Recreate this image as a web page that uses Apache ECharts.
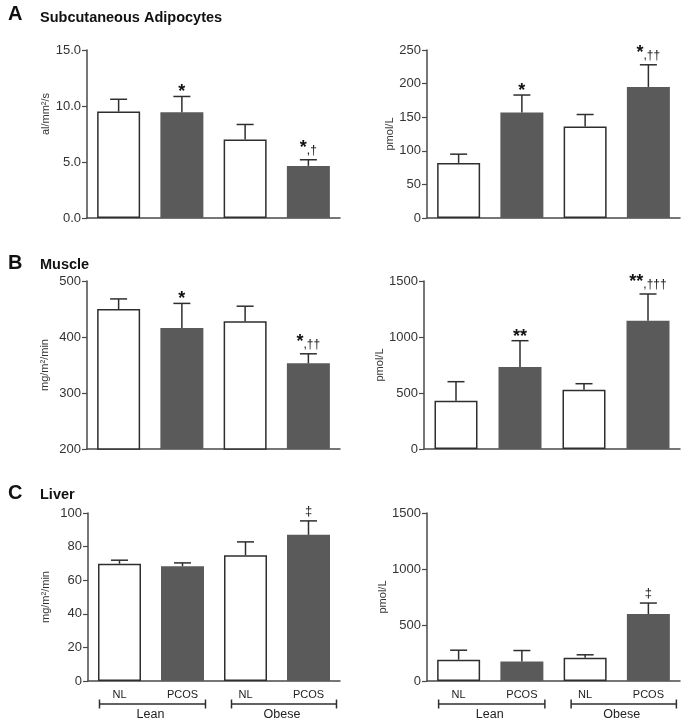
<!DOCTYPE html>
<html>
<head>
<meta charset="utf-8">
<script src="https://cdn.jsdelivr.net/npm/echarts@6/dist/echarts.min.js"></script>
<style>
html,body{margin:0;padding:0;background:#fff;}
#chart{width:683px;height:719px;}
</style>
</head>
<body>
<div id="chart"></div>
<script>
// ---- Data ----
const groups = ['NL', 'PCOS', 'NL', 'PCOS'];
const bodyTypes = ['Lean', 'Obese'];

// A: Subcutaneous adipocytes
const adipoFlow = [9.5, 9.45, 7.0, 4.65];
const adipoFlowErr = [1.1, 1.4, 1.35, 0.55];
const adipoFlowSig = ['', '*', '', '*,†'];
const adipoIns = [82, 157, 136, 195];
const adipoInsErr = [13, 26, 18, 33];
const adipoInsSig = ['', '*', '', '*,††'];

// B: Muscle
const muscleUptake = [450, 416, 428, 353];
const muscleUptakeErr = [18, 44, 27, 17];
const muscleUptakeSig = ['', '*', '', '*,††'];
const muscleIns = [431, 732, 529, 1146];
const muscleInsErr = [170, 235, 54, 238];
const muscleInsSig = ['', '**', '', '**,†††'];

// C: Liver
const liverUptake = [69.8, 68.3, 74.9, 87.0];
const liverUptakeErr = [2.1, 2.0, 7.9, 8.3];
const liverUptakeSig = ['', '', '', '‡'];
const liverIns = [190, 175, 208, 598];
const liverInsErr = [85, 97, 26, 98];
const liverInsSig = ['', '', '', '‡'];

// Axis scales
const yMins = [0, 0, 200, 0, 0, 0];
const yMaxs = [15, 250, 500, 1500, 100, 1500];
const yIntervals = [5, 50, 100, 500, 20, 500];
const yNames = ['al/mm²/s', 'pmol/L', 'mg/m²/min', 'pmol/L', 'mg/m²/min', 'pmol/L'];

const panels = [
  {vals: adipoFlow, err: adipoFlowErr, sig: adipoFlowSig},
  {vals: adipoIns, err: adipoInsErr, sig: adipoInsSig},
  {vals: muscleUptake, err: muscleUptakeErr, sig: muscleUptakeSig},
  {vals: muscleIns, err: muscleInsErr, sig: muscleInsSig},
  {vals: liverUptake, err: liverUptakeErr, sig: liverUptakeSig},
  {vals: liverIns, err: liverInsErr, sig: liverInsSig}
];

// ---- Layout ----
const grids = [
  {left: 87, top: 50, width: 253, height: 168},
  {left: 427, top: 50, width: 253, height: 168},
  {left: 87, top: 281, width: 253, height: 168},
  {left: 424, top: 281, width: 256, height: 168},
  {left: 88, top: 513, width: 252, height: 168},
  {left: 427, top: 513, width: 253, height: 168}
];
const nameGaps = [34, 32, 37, 36, 37, 36];
const namePads = [[0, 0, 0, 40], 0, 0, 0, 0, 0];

const FONT = 'Liberation Sans';
const AXIS_COLOR = '#4a4a4a';
const DARK = '#5a5a5a';
const INK = '#2e2e2e';

const chart = echarts.init(document.getElementById('chart'), null, {renderer: 'canvas'});

const xAxes = grids.map((g, i) => ({
  type: 'category',
  gridIndex: i,
  data: groups,
  boundaryGap: true,
  axisLine: {show: true, lineStyle: {color: AXIS_COLOR, width: 1.5}},
  axisTick: {show: false},
  axisLabel: {show: i >= 4, color: '#222', fontFamily: FONT, fontSize: 11, margin: 8}
}));

const yAxes = grids.map((g, i) => ({
  type: 'value',
  gridIndex: i,
  min: yMins[i],
  max: yMaxs[i],
  interval: yIntervals[i],
  splitLine: {show: false},
  axisLine: {show: true, lineStyle: {color: AXIS_COLOR, width: 1.5}},
  axisTick: {show: true, length: 5, lineStyle: {color: AXIS_COLOR, width: 1.2}},
  axisLabel: {
    color: '#333', fontFamily: FONT, fontSize: 13, margin: 6,
    formatter: i === 0 ? (v) => v.toFixed(1) : (v) => String(v)
  },
  name: yNames[i],
  nameLocation: 'middle',
  nameGap: nameGaps[i],
  nameTextStyle: {color: '#333', fontFamily: FONT, fontSize: 11, padding: namePads[i]}
}));

const series = [];
panels.forEach((p, i) => {
  series.push({
    type: 'bar',
    xAxisIndex: i,
    yAxisIndex: i,
    barWidth: 43,
    clip: true,
    silent: true,
    data: p.vals.map((v, k) => ({
      value: v,
      itemStyle: k % 2 === 0
        ? {color: '#ffffff', borderColor: INK, borderWidth: 1.5}
        : {color: DARK, borderColor: DARK, borderWidth: 0}
    })),
    z: 2
  });
  series.push({
    type: 'custom',
    xAxisIndex: i,
    yAxisIndex: i,
    silent: true,
    z: 3,
    data: p.vals.map((v, k) => [k, v, p.err[k]]),
    renderItem: function (params, api) {
      const k = api.value(0);
      const base = api.coord([k, api.value(1)]);
      const top = api.coord([k, api.value(1) + api.value(2)]);
      const capHalf = 8.5;
      const children = [
        {type: 'line', shape: {x1: base[0], y1: base[1], x2: top[0], y2: top[1]},
          style: {stroke: INK, lineWidth: 1.5}},
        {type: 'line', shape: {x1: top[0] - capHalf, y1: top[1], x2: top[0] + capHalf, y2: top[1]},
          style: {stroke: INK, lineWidth: 1.5}}
      ];
      const s = p.sig[params.dataIndex];
      if (s) {
        const m = s.match(/^(\**)(.*)$/);
        const stars = m[1];
        const rest = m[2];
        if (stars && !rest) {
          children.push({type: 'text', x: top[0], y: top[1] + 5,
            style: {text: stars, fontFamily: FONT, fontWeight: 'bold', fontSize: 18, fill: '#111',
              align: 'center', verticalAlign: 'bottom'}});
        } else if (!stars) {
          children.push({type: 'text', x: top[0], y: top[1] - 3,
            style: {text: rest, fontFamily: FONT, fontSize: 13, fill: '#111',
              align: 'center', verticalAlign: 'bottom'}});
        } else {
          children.push({type: 'text', x: top[0], y: top[1] - 3,
            style: {text: '{s|' + stars + '}{d|' + rest + '}', fontFamily: FONT, fill: '#111',
              align: 'center', verticalAlign: 'bottom',
              rich: {
                s: {fontFamily: FONT, fontWeight: 'bold', fontSize: 18, fill: '#111', verticalAlign: 'bottom'},
                d: {fontFamily: FONT, fontSize: 12, fill: '#111', verticalAlign: 'bottom'}
              }}});
        }
      }
      return {type: 'group', children: children};
    }
  });
});

const titleStyle = {fontFamily: FONT, fontWeight: 'bold', color: '#111'};
const titles = [
  {text: 'A', left: 3, top: -1, textStyle: Object.assign({fontSize: 20}, titleStyle)},
  {text: 'Subcutaneous Adipocytes', left: 35, top: 5, textStyle: Object.assign({fontSize: 14.5}, titleStyle)},
  {text: 'B', left: 3, top: 248, textStyle: Object.assign({fontSize: 20}, titleStyle)},
  {text: 'Muscle', left: 35, top: 252, textStyle: Object.assign({fontSize: 14.5}, titleStyle)},
  {text: 'C', left: 3, top: 478, textStyle: Object.assign({fontSize: 20}, titleStyle)},
  {text: 'Liver', left: 35, top: 482, textStyle: Object.assign({fontSize: 14.5}, titleStyle)}
];

chart.setOption({
  animation: false,
  backgroundColor: '#ffffff',
  title: titles,
  grid: grids,
  xAxis: xAxes,
  yAxis: yAxes,
  series: series
});

// ---- Lean / Obese brackets under bottom panels ----
const graphics = [];
[4, 5].forEach((gi) => {
  const baseY = chart.convertToPixel({yAxisIndex: gi}, yMins[gi]);
  const by = baseY + 23;
  bodyTypes.forEach((name, j) => {
    const xa = chart.convertToPixel({xAxisIndex: gi}, 2 * j);
    const xb = chart.convertToPixel({xAxisIndex: gi}, 2 * j + 1);
    const x1 = xa - (j === 0 ? 20 : 14);
    const x2 = xb + (j === 0 ? 23 : 28);
    graphics.push({type: 'line', shape: {x1: x1, y1: by, x2: x2, y2: by}, style: {stroke: INK, lineWidth: 1.5}});
    graphics.push({type: 'line', shape: {x1: x1, y1: by - 4.5, x2: x1, y2: by + 4.5}, style: {stroke: INK, lineWidth: 1.5}});
    graphics.push({type: 'line', shape: {x1: x2, y1: by - 4.5, x2: x2, y2: by + 4.5}, style: {stroke: INK, lineWidth: 1.5}});
    graphics.push({type: 'text', x: (x1 + x2) / 2 - 2, y: by + 4,
      style: {text: name, fontFamily: FONT, fontSize: 12.5, fill: '#222', align: 'center', verticalAlign: 'top'}});
  });
});
chart.setOption({graphic: graphics});
</script>
</body>
</html>
